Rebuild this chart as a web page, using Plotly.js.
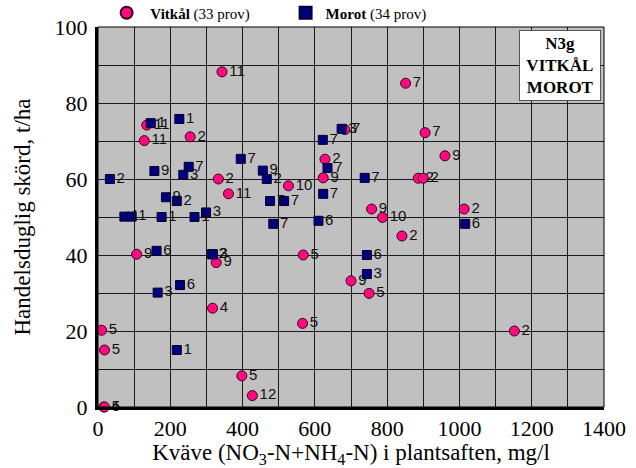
<!DOCTYPE html>
<html>
<head>
<meta charset="utf-8">
<script src="https://cdn.plot.ly/plotly-3.0.1.min.js"></script>
<style>html,body{margin:0;padding:0;background:#fff;}#chart{width:636px;height:468px;}</style>
</head>
<body>
<div id="chart"></div>
<script>
// Vitkål (white cabbage) samples
const vitkalX = [135, 255, 128, 333, 361, 107, 327, 317, 10, 18, 398, 427, 16, 18,
  851, 905, 960, 628, 623, 886, 900, 527, 757, 787, 841, 1013, 568, 700, 750, 566, 1152, 343, 683];
const vitkalY = [74.2, 71.1, 70.1, 60, 56.1, 40.2, 38, 26, 20.2, 15, 8.2, 3, 0, 0,
  85.2, 72.2, 66.1, 65.2, 60.3, 60.2, 60.2, 58.2, 52.1, 49.9, 45, 52.1, 40, 33.2, 29.9, 22, 20, 88.2, 73];
const vitkalLbl = ["11", "2", "11", "2", "11", "9", "9", "4", "5", "5", "5", "12", "4", "5",
  "7", "7", "9", "2", "9", "2", "2", "10", "9", "10", "2", "2", "5", "9", "5", "5", "2", "11", "7"];

// Morot (carrot) samples
const morotX = [146, 225, 395, 156, 251, 236, 33, 188, 218, 299, 73, 93, 176, 267,
  162, 315, 318, 227, 165, 218, 674, 622, 635, 738, 623, 456, 467, 476, 515, 485, 610, 1016, 744, 744];
const morotY = [74.7, 75.8, 65.3, 62.1, 63.2, 61.1, 60, 55.2, 54.2, 51.2, 50.1, 50.1, 50, 50,
  41.1, 40.2, 40.2, 32.1, 30.1, 15, 73.2, 70.3, 62.9, 60.3, 56.1, 62.2, 60, 54.2, 54.2, 48.2, 49, 48.2, 40, 35];
const morotLbl = ["1", "1", "7", "9", "7", "3", "2", "9", "2", "3", "1", "1", "1", "1",
  "6", "2", "3", "6", "3", "1", "3", "7", "7", "7", "7", "9", "2", "7", "7", "7", "6", "6", "6", "3"];

const legendNames = ["\u00a0<b>Vitkål</b> (33 prov)", "<b>Morot</b> (34 prov)"];
const xTickVals = [0, 200, 400, 600, 800, 1000, 1200, 1400];
const yTickVals = [0, 20, 40, 60, 80, 100];
const boxText = "<b>N3g<br>VITKÅL<br>MOROT</b>";

const labelFont = {family: "Liberation Sans, Arial, sans-serif", size: 15, color: "#111"};

const traces = [
  {
    type: "scatter", mode: "markers+text", name: legendNames[0],
    x: vitkalX, y: vitkalY, text: vitkalLbl, textposition: "middle right",
    textfont: labelFont, cliponaxis: false,
    marker: {symbol: "circle", size: 10, color: "#ff0a7f", line: {color: "#3a0020", width: 1}}
  },
  {
    type: "scatter", mode: "markers+text", name: legendNames[1],
    x: morotX, y: morotY, text: morotLbl, textposition: "middle right",
    textfont: labelFont, cliponaxis: false,
    marker: {symbol: "square", size: 9, color: "#00007f", line: {color: "#000030", width: 1}}
  }
];

const serif = "Liberation Serif, Times New Roman, serif";

const layout = {
  width: 636, height: 468,
  margin: {l: 98, r: 32, t: 27, b: 61, autoexpand: false},
  paper_bgcolor: "#ffffff",
  plot_bgcolor: "#c0c0c0",
  font: {family: serif, color: "#000"},
  showlegend: true,
  legend: {
    orientation: "h", x: 0.017, y: 1.037, xanchor: "left", yanchor: "middle",
    font: {family: serif, size: 15, color: "#000"},
    bgcolor: "rgba(0,0,0,0)", entrywidth: 134, entrywidthmode: "pixels",
    itemsizing: "constant"
  },
  xaxis: {
    range: [0, 1400], tickvals: xTickVals, ticks: "", showgrid: true,
    gridcolor: "#1a1a1a", gridwidth: 1, automargin: false,
    minor: {dtick: 100, showgrid: true, gridcolor: "#1a1a1a", gridwidth: 1},
    zeroline: false, showline: true, linecolor: "#000", linewidth: 3,
    tickfont: {family: serif, size: 22, color: "#000"}, ticklabelstandoff: 0,
    title: {text: "Kväve (NO<sub>3</sub>-N+NH<sub>4</sub>-N) i plantsaften, mg/l",
            font: {family: serif, size: 23, color: "#000"}, standoff: 0}
  },
  yaxis: {
    range: [0, 100], tickvals: yTickVals, ticks: "", showgrid: true,
    gridcolor: "#1a1a1a", gridwidth: 1, automargin: false,
    minor: {dtick: 10, showgrid: true, gridcolor: "#1a1a1a", gridwidth: 1},
    zeroline: false, showline: true, linecolor: "#000", linewidth: 3,
    tickfont: {family: serif, size: 22, color: "#000"}, ticklabelstandoff: 3,
    title: {text: "Handelsduglig skörd, t/ha", font: {family: serif, size: 23, color: "#000"}, standoff: 18}
  },
  shapes: [
    {type: "rect", xref: "paper", yref: "paper", x0: 0, x1: 1, y0: 0, y1: 1,
     line: {color: "#000", width: 1}, fillcolor: "rgba(0,0,0,0)", layer: "above"}
  ],
  annotations: [
    {xref: "paper", yref: "paper", x: 0.994, y: 0.992, xanchor: "right", yanchor: "top",
     text: boxText, showarrow: false, align: "center", valign: "middle",
     font: {family: serif, size: 17, color: "#000"},
     bgcolor: "#ffffff", bordercolor: "#555", borderwidth: 1, borderpad: 1, width: 78, height: 67}
  ]
};

Plotly.newPlot("chart", traces, layout, {displayModeBar: false, staticPlot: true});
</script>
</body>
</html>
